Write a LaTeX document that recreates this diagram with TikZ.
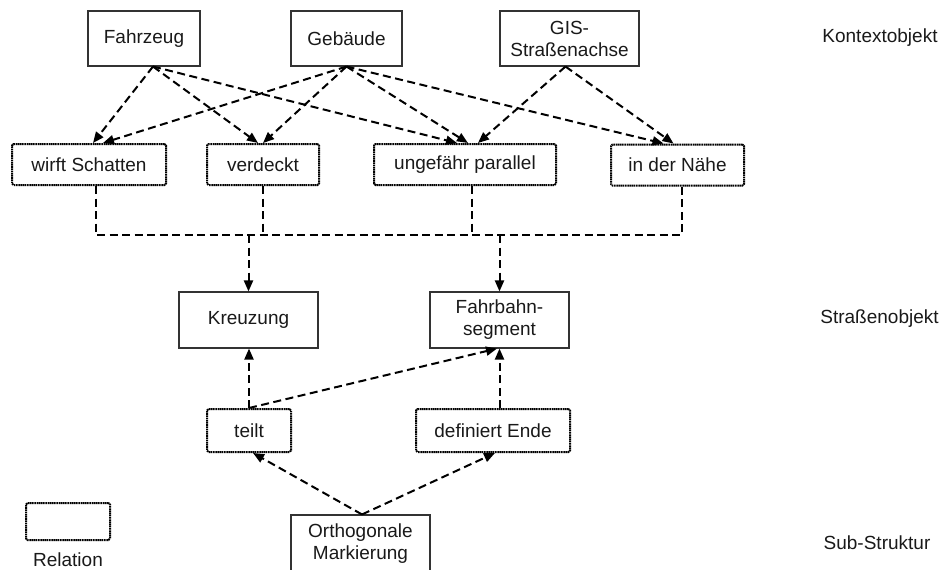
\documentclass[tikz,border=0pt]{standalone}
\usepackage{fontspec}
\setmainfont{Liberation Sans}
\usetikzlibrary{arrows.meta}
\begin{document}
\begin{tikzpicture}[x=1pt,y=-1pt,
  every node/.style={font=\fontsize{19}{22}\selectfont, align=center, inner sep=0pt, text=black!90},
  objbox/.style={draw=black!80, line width=1.1pt, minimum width=#1, minimum height=55pt},
  relbox/.style={draw=black, line width=2pt, dash pattern=on 1.6pt off 0.6pt,
                 rounded corners=1.5pt, minimum width=#1, minimum height=41pt},
  link/.style={line width=2pt, dash pattern=on 8pt off 4.5pt},
  arr/.style={link, -{Triangle[length=11pt,width=9pt]}},
]
\useasboundingbox (0,0) rectangle (943,570);

% context objects
\node[objbox=112pt] (fz) at (144,38.5) {Fahrzeug};
\node[objbox=111pt] (gb) at (346.5,38.5) {Gebäude};
\node[objbox=139pt] (gis) at (569.5,38.5) {GIS-\\Straßenachse};

% relations between context objects and road objects
\node[relbox=154pt] (ws) at (89,164.5) {wirft Schatten};
\node[relbox=112pt] (vd) at (263,164.5) {verdeckt};
\node[relbox=182pt] (up) at (465,164.5) {ungefähr parallel};
\node[relbox=133pt] (nh) at (677.5,165) {in der Nähe};

% road objects
\node[objbox=139pt, minimum height=56pt] (kr) at (248.5,320) {Kreuzung};
\node[objbox=139pt, minimum height=56pt] (fs) at (499.5,320) {Fahrbahn-\\segment};

% relations of the sub-structure
\node[relbox=84pt, minimum height=43pt] (te) at (249,430.5) {teilt};
\node[relbox=154pt, minimum height=43pt] (de) at (493,430.5) {definiert Ende};

% sub-structure
\node[objbox=139pt, minimum height=57pt] (om) at (360.5,543.5) {Orthogonale\\Markierung};

% legend
\node[relbox=84pt, minimum height=37pt] (leg) at (68,521.5) {};
\node (legtext) at (68,560) {Relation};

% level labels
\node (l1) at (880,38) {Kontextobjekt};
\node (l2) at (879.5,319) {Straßenobjekt};
\node (l3) at (877,543) {Sub-Struktur};

% context objects -> relations
\draw[arr] ([xshift=9pt]fz.south) -- ([xshift=4pt]ws.north);
\draw[arr] ([xshift=9pt]fz.south) -- ([xshift=-5pt]vd.north);
\draw[arr] ([xshift=9pt]fz.south) -- ([xshift=-8pt]up.north);
\draw[arr] (gb.south) -- ([xshift=14pt]ws.north);
\draw[arr] (gb.south) -- (vd.north);
\draw[arr] (gb.south) -- ([xshift=3pt]up.north);
\draw[arr] (gb.south) -- ([xshift=-14pt]nh.north);
\draw[arr] ([xshift=-4pt]gis.south) -- ([xshift=13pt]up.north);
\draw[arr] ([xshift=-4pt]gis.south) -- ([xshift=-4pt]nh.north);

% collecting line below the relations
\coordinate (bus) at (0,235);
\draw[link] ([xshift=7pt]ws.south) |- ([xshift=4pt]nh.south |- bus) -- ([xshift=4pt]nh.south);
\draw[link] (vd.south) -- (vd.south |- bus);
\draw[link] ([xshift=7pt]up.south) -- ([xshift=7pt]up.south |- bus);
\draw[arr] (kr.north |- bus) -- (kr.north);
\draw[arr] (fs.north |- bus) -- (fs.north);

% sub-structure relations -> road objects
\draw[arr] (te.north) -- (te.north |- kr.south);
\draw[arr] (te.north) -- ([xshift=-2.5pt]fs.south);
\draw[arr] (fs.south |- de.north) -- (fs.south);

% sub-structure -> relations
\draw[arr] ([xshift=1.5pt]om.north) -- ([xshift=4pt]te.south);
\draw[arr] ([xshift=1.5pt]om.north) -- ([xshift=2pt]de.south);
\end{tikzpicture}
\end{document}
